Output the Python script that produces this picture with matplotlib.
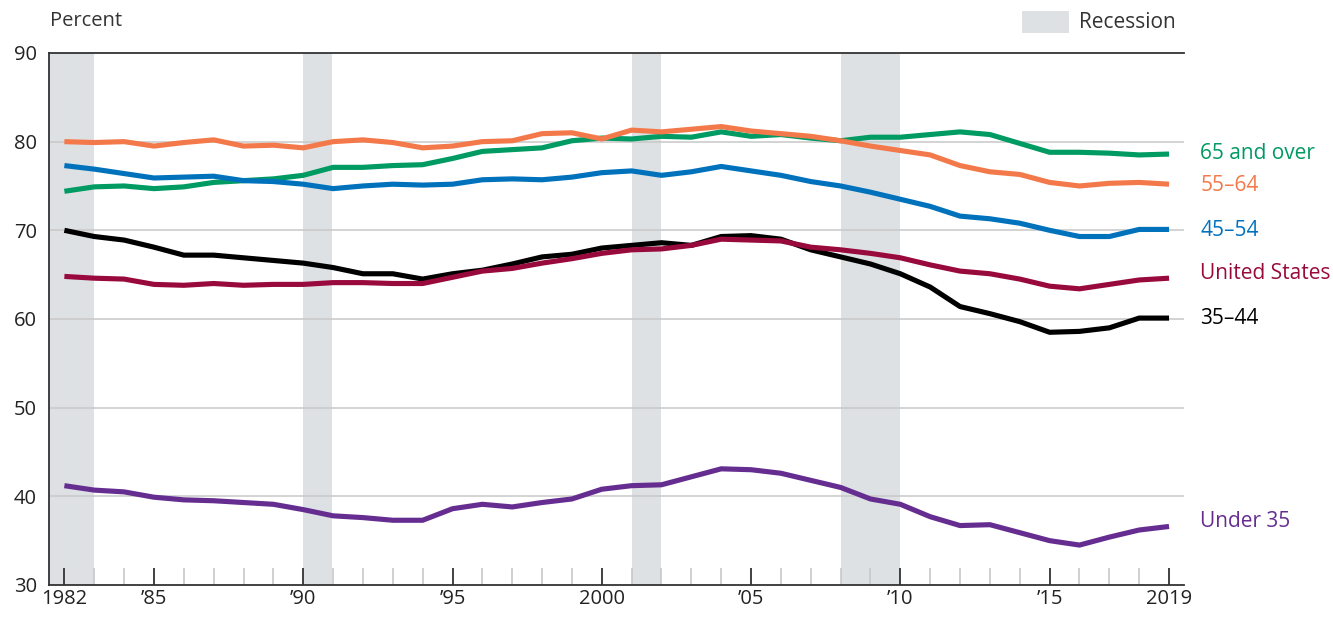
import matplotlib
matplotlib.use("Agg")
import matplotlib.pyplot as plt
import numpy as np

years = list(range(1982, 2020))

under35 = [41.2, 40.7, 40.5, 39.9, 39.6, 39.5, 39.3, 39.1, 38.5, 37.8,
           37.6, 37.3, 37.3, 38.6, 39.1, 38.8, 39.3, 39.7, 40.8, 41.2,
           41.3, 42.2, 43.1, 43.0, 42.6, 41.8, 41.0, 39.7, 39.1, 37.7,
           36.7, 36.8, 35.9, 35.0, 34.5, 35.4, 36.2, 36.6]
age35_44 = [70.0, 69.3, 68.9, 68.1, 67.2, 67.2, 66.9, 66.6, 66.3, 65.8,
            65.1, 65.1, 64.5, 65.1, 65.5, 66.2, 67.0, 67.3, 68.0, 68.3,
            68.6, 68.3, 69.3, 69.4, 69.0, 67.8, 67.0, 66.2, 65.1, 63.6,
            61.4, 60.6, 59.7, 58.5, 58.6, 59.0, 60.1, 60.1]
us = [64.8, 64.6, 64.5, 63.9, 63.8, 64.0, 63.8, 63.9, 63.9, 64.1,
      64.1, 64.0, 64.0, 64.7, 65.4, 65.7, 66.3, 66.8, 67.4, 67.8,
      67.9, 68.3, 69.0, 68.9, 68.8, 68.1, 67.8, 67.4, 66.9, 66.1,
      65.4, 65.1, 64.5, 63.7, 63.4, 63.9, 64.4, 64.6]
age65plus = [74.4, 74.9, 75.0, 74.7, 74.9, 75.4, 75.6, 75.8, 76.2, 77.1,
             77.1, 77.3, 77.4, 78.1, 78.9, 79.1, 79.3, 80.1, 80.4, 80.3,
             80.6, 80.5, 81.1, 80.6, 80.8, 80.4, 80.1, 80.5, 80.5, 80.8,
             81.1, 80.8, 79.8, 78.8, 78.8, 78.7, 78.5, 78.6]
age45_54 = [77.3, 76.9, 76.4, 75.9, 76.0, 76.1, 75.6, 75.5, 75.2, 74.7,
            75.0, 75.2, 75.1, 75.2, 75.7, 75.8, 75.7, 76.0, 76.5, 76.7,
            76.2, 76.6, 77.2, 76.7, 76.2, 75.5, 75.0, 74.3, 73.5, 72.7,
            71.6, 71.3, 70.8, 70.0, 69.3, 69.3, 70.1, 70.1]
age55_64 = [80.0, 79.9, 80.0, 79.5, 79.9, 80.2, 79.5, 79.6, 79.3, 80.0,
            80.2, 79.9, 79.3, 79.5, 80.0, 80.1, 80.9, 81.0, 80.3, 81.3,
            81.1, 81.4, 81.7, 81.2, 80.9, 80.6, 80.1, 79.5, 79.0, 78.5,
            77.3, 76.6, 76.3, 75.4, 75.0, 75.3, 75.4, 75.2]

recessions = [(1981.5, 1983.0), (1990.0, 1990.95), (2001.0, 2002.0), (2008.0, 2010.0)]

series = [
    ("Under 35", under35, "#662D91", 37.2),
    ("35\u201344", age35_44, "#000000", 60.0),
    ("United States", us, "#990A3C", 65.1),
    ("65 and over", age65plus, "#009A63", 78.7),
    ("45\u201354", age45_54, "#0072BC", 70.0),
    ("55\u201364", age55_64, "#F4794A", 75.0),
]

plt.rcParams['font.family'] = ['Open Sans', 'DejaVu Sans']

fig = plt.figure(figsize=(13.33, 6.21), dpi=100)
ax = fig.add_axes([0.0371, 0.058, 0.8511, 0.8567])

for s, e in recessions:
    ax.axvspan(s, e, color="#DEE1E4", lw=0, zorder=0)

for yv in [40, 50, 60, 70, 80]:
    ax.axhline(yv, color="#C8C8C8", lw=1.1, zorder=1)

for name, vals, col, ly in series:
    ax.plot(years, vals, color=col, lw=3.7, solid_capstyle='butt', zorder=3)
    ax.text(2020.05, ly, name, color=col, fontsize=15, va='center', ha='left',
            clip_on=False)

ax.set_xlim(1981.5, 2019.5)
ax.set_ylim(30, 90)

ax.set_yticks([30, 40, 50, 60, 70, 80, 90])
ax.set_yticklabels(["30", "40", "50", "60", "70", "80", "90"], fontsize=14.5, color="#222222")
ax.tick_params(axis='y', length=0, pad=9)

major = [1982, 1985, 1990, 1995, 2000, 2005, 2010, 2015, 2019]
major_lbl = ["1982", "\u201985", "\u201990", "\u201995", "2000", "\u201905", "\u201910", "\u201915", "2019"]
ax.set_xticks(major)
ax.set_xticklabels(major_lbl, fontsize=14.5, color="#222222")
ax.set_xticks([y for y in years if y not in major], minor=True)
ax.tick_params(axis='x', which='major', direction='in', length=12, width=1.3,
               color="#333333", pad=3)
ax.tick_params(axis='x', which='minor', direction='in', length=12, width=1.2,
               color="#C8C8C8")

for sp in ['left', 'bottom', 'top']:
    ax.spines[sp].set_color("#333333")
    ax.spines[sp].set_linewidth(1.3)
ax.spines['right'].set_visible(False)

fig.text(0.0375, 1 - 21 / 621, "Percent", fontsize=14.5, color="#333333", va='center', ha='left')

# Recession legend
fig.patches.append(plt.Rectangle((1022 / 1333, 1 - 33 / 621), 47 / 1333, 22 / 621,
                                 transform=fig.transFigure, color="#DEE1E4", lw=0))
fig.text(1079 / 1333, 1 - 22 / 621, "Recession", fontsize=15, color="#333333",
         va='center', ha='left')

fig.savefig("out.png", dpi=100)
